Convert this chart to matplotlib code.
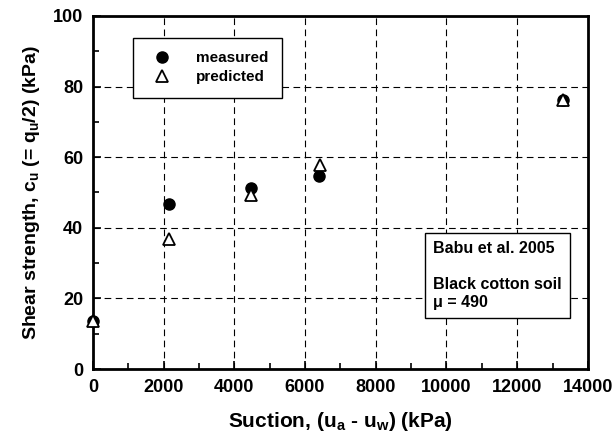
import numpy as np
import matplotlib
matplotlib.use('Agg')
import matplotlib.pyplot as plt
from matplotlib.ticker import MultipleLocator

plt.rcParams['font.family'] = ['Liberation Sans', 'DejaVu Sans']
plt.rcParams['font.weight'] = 'bold'
plt.rcParams['mathtext.fontset'] = 'custom'
plt.rcParams['mathtext.rm'] = 'Liberation Sans:bold'
plt.rcParams['mathtext.it'] = 'Liberation Sans:bold'
plt.rcParams['mathtext.bf'] = 'Liberation Sans:bold'
plt.rcParams['mathtext.default'] = 'rm'

# suction (kPa) and undrained shear strength (kPa)
suction_measured = [0, 2140, 4460, 6400, 13290]
cu_measured = [13.6, 46.8, 51.3, 54.6, 76.2]
suction_predicted = [0, 2150, 4470, 6420, 13290]
cu_predicted = [13.6, 36.8, 49.4, 57.7, 76.2]

fig = plt.figure(figsize=(6.15, 4.4), dpi=100)
ax = fig.add_axes([0.151, 0.161, 0.805, 0.803])

ax.plot(suction_measured, cu_measured, 'o', color='black', markersize=8,
        linestyle='none', label='measured', clip_on=False, zorder=3)
ax.plot(suction_predicted, cu_predicted, '^', markerfacecolor='white',
        markeredgecolor='black', markeredgewidth=1.3, markersize=9,
        linestyle='none', label='predicted', clip_on=False, zorder=4)

ax.set_xlim(0, 14000)
ax.set_ylim(0, 100)
ax.xaxis.set_major_locator(MultipleLocator(2000))
ax.xaxis.set_minor_locator(MultipleLocator(1000))
ax.yaxis.set_major_locator(MultipleLocator(20))
ax.yaxis.set_minor_locator(MultipleLocator(10))
ax.tick_params(which='both', direction='in', labelsize=13, width=1.2)
ax.tick_params(which='major', length=6, pad=7)
ax.tick_params(which='minor', length=4)
ax.grid(True, which='major', color='black', linestyle=(0, (6, 4)), linewidth=0.8)
for s in ax.spines.values():
    s.set_linewidth(2)

ax.set_xlabel('Suction, (u$_a$ - u$_w$) (kPa)', fontsize=15, fontweight='bold', labelpad=10)
ax.set_ylabel('Shear strength, c$_u$ (= q$_u$/2) (kPa)', fontsize=14, fontweight='bold', labelpad=8)

leg = ax.legend(loc='upper left', bbox_to_anchor=(0.066, 0.96), fontsize=11,
                fancybox=False, edgecolor='black', framealpha=1,
                handletextpad=1.2, borderpad=0.9, labelspacing=0.3)
leg.get_frame().set_linewidth(1)

ax.text(0.687, 0.362, 'Babu et al. 2005\n\nBlack cotton soil\n\u03bc = 490',
        transform=ax.transAxes, fontsize=11.5, fontweight='bold', va='top', ha='left',
        linespacing=1.25,
        bbox=dict(boxstyle='square,pad=0.5', facecolor='white', edgecolor='black', linewidth=1))

fig.savefig('out.png', dpi=100)
